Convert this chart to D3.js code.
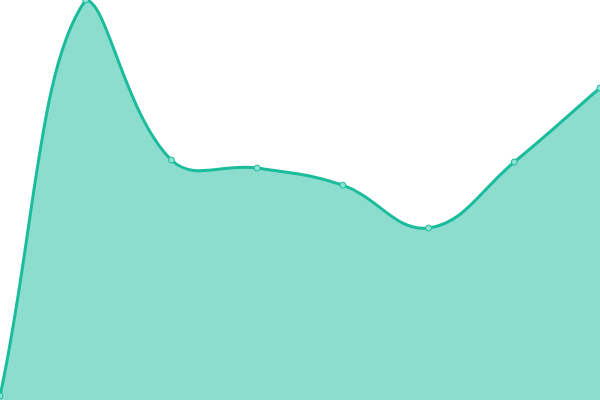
<!DOCTYPE html>
<html><head><meta charset="utf-8">
<script src="https://cdn.jsdelivr.net/npm/d3@7"></script>
<style>html,body{margin:0;padding:0;background:#fff;overflow:hidden}</style>
</head><body>
<svg id="c" width="600" height="400"></svg>
<script>
const categories = ["A","B","C","D","E","F","G","H"];
const values = [1, 100, 60, 58, 53.7, 43, 59.5, 78];

const W = 600, H = 400;
const x = d3.scalePoint().domain(categories).range([0, W]);
const y = d3.scaleLinear().domain([0, 100]).range([400, 0]);

const pts = categories.map((c,i)=>({x:x(c), y:y(values[i])}));

// Chart.js-style spline (tension 0.4) as a custom D3 curve
function ChartSpline(context){ this._context = context; }
ChartSpline.prototype = {
  areaStart(){ this._line = 0; },
  areaEnd(){ this._line = NaN; },
  lineStart(){ this._pts = []; },
  lineEnd(){
    const p = this._pts, ctx = this._context, t = 0.4, n = p.length;
    const cps = p.map((cur,i)=>{
      const prev = p[Math.max(0,i-1)], next = p[Math.min(n-1,i+1)];
      const d01 = Math.hypot(cur[0]-prev[0], cur[1]-prev[1]);
      const d12 = Math.hypot(next[0]-cur[0], next[1]-cur[1]);
      let s01 = d01/(d01+d12), s12 = d12/(d01+d12);
      if (!isFinite(s01)) s01 = 0; if (!isFinite(s12)) s12 = 0;
      const fa = t*s01, fb = t*s12;
      const cl = [cur[0]-fa*(next[0]-prev[0]), cur[1]-fa*(next[1]-prev[1])];
      const cr = [cur[0]+fb*(next[0]-prev[0]), cur[1]+fb*(next[1]-prev[1])];
      cl[1] = Math.max(0, Math.min(H, cl[1])); cr[1] = Math.max(0, Math.min(H, cr[1]));
      cl[0] = Math.max(0, Math.min(W, cl[0])); cr[0] = Math.max(0, Math.min(W, cr[0]));
      return {cl, cr};
    });
    if (this._line) ctx.lineTo(p[0][0], p[0][1]); else ctx.moveTo(p[0][0], p[0][1]);
    for (let i=1;i<n;i++){
      ctx.bezierCurveTo(cps[i-1].cr[0], cps[i-1].cr[1], cps[i].cl[0], cps[i].cl[1], p[i][0], p[i][1]);
    }
    if (this._line || (this._line !== 0 && n === 1)) ctx.closePath();
    this._line = 1 - this._line;
  },
  point(a,b){ this._pts.push([+a,+b]); }
};
const curve = ctx => new ChartSpline(ctx);

const svg = d3.select("#c");
const area = d3.area().x(d=>d.x).y0(400).y1(d=>d.y).curve(curve);
const line = d3.line().x(d=>d.x).y(d=>d.y).curve(curve);

svg.append("path").datum(pts).attr("d", area).attr("fill", "rgba(26,188,156,0.5)");
svg.append("path").datum(pts).attr("d", line).attr("fill","none").attr("stroke","#1abc9c").attr("stroke-width",3);
svg.selectAll("circle").data(pts).join("circle")
  .attr("cx",d=>d.x).attr("cy",d=>d.y).attr("r",3)
  .attr("fill","#8ee2d2").attr("stroke","#1abc9c").attr("stroke-width",1);
</script>
</body></html>
